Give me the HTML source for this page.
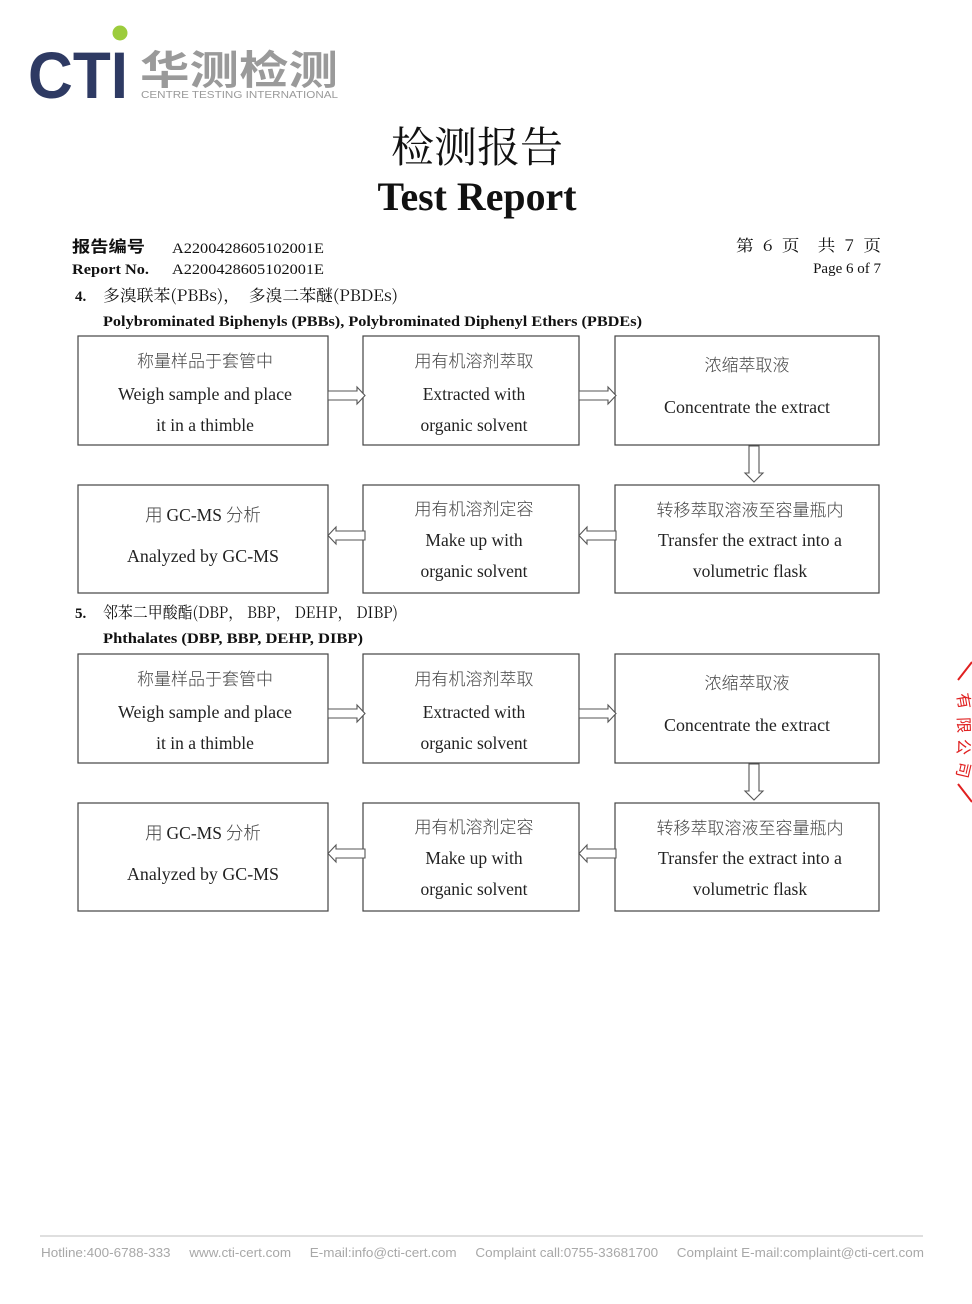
<!DOCTYPE html>
<html><head><meta charset="utf-8"><style>
html,body{margin:0;padding:0;background:#fff;}
svg{display:block;}
.s{font-family:"Liberation Serif","Noto Serif CJK SC",serif;}
.bx{fill:#fff;stroke:#444;stroke-width:1.2;}
.ar{fill:#fff;stroke:#555;stroke-width:1.1;}
.t{font-size:17.5px;fill:#222;text-anchor:middle;font-family:"Liberation Serif","Noto Sans CJK SC",serif;}
.tc{font-size:17px;fill:#444;text-anchor:middle;font-family:"Noto Sans CJK SC",sans-serif;font-weight:300;}
</style></head><body>
<svg width="972" height="1304" viewBox="0 0 972 1304" xmlns="http://www.w3.org/2000/svg">
<!-- logo -->
<circle cx="120" cy="33" r="7.5" fill="#9ccc3c"/>
<text x="28" y="98" font-family="Liberation Sans,sans-serif" font-weight="bold" font-size="66" fill="#2e3a63" textLength="100" lengthAdjust="spacingAndGlyphs">CTI</text>
<text x="140" y="84" font-family="Noto Sans CJK SC,sans-serif" font-weight="bold" font-size="40" fill="#9a9a9a" textLength="198" lengthAdjust="spacingAndGlyphs">华测检测</text>
<text x="141" y="98" font-family="Liberation Sans,sans-serif" font-size="10.5" fill="#9a9a9a" textLength="197" lengthAdjust="spacingAndGlyphs">CENTRE TESTING INTERNATIONAL</text>
<!-- title -->
<text x="477" y="162" text-anchor="middle" font-family="Noto Serif CJK SC,serif" font-size="42" fill="#111" textLength="172" lengthAdjust="spacingAndGlyphs">检测报告</text>
<text x="477" y="210" text-anchor="middle" class="s" font-weight="bold" font-size="40" fill="#111" textLength="199" lengthAdjust="spacingAndGlyphs">Test Report</text>
<!-- header -->
<text x="72" y="252" font-family="Noto Sans CJK SC,sans-serif" font-size="16" font-weight="bold" fill="#111" textLength="73" lengthAdjust="spacingAndGlyphs">报告编号</text>
<text x="172" y="253" class="s" font-size="15" fill="#111" textLength="152" lengthAdjust="spacingAndGlyphs">A2200428605102001E</text>
<text x="72" y="274" class="s" font-size="15" font-weight="bold" fill="#111" textLength="77" lengthAdjust="spacingAndGlyphs">Report No.</text>
<text x="172" y="274" class="s" font-size="15" fill="#111" textLength="152" lengthAdjust="spacingAndGlyphs">A2200428605102001E</text>
<text x="736" y="251" font-family="Noto Serif CJK SC,serif" font-size="16" fill="#111" xml:space="preserve" textLength="145" lengthAdjust="spacingAndGlyphs">第  6  页    共  7  页</text>
<text x="881" y="273" text-anchor="end" class="s" font-size="15" fill="#111">Page 6 of 7</text>
<!-- section 4 -->
<text x="75" y="301" class="s" font-size="15" font-weight="bold" fill="#111">4.</text>
<text x="103" y="301" font-family="Noto Serif CJK SC,serif" font-size="16" fill="#111" xml:space="preserve" textLength="295" lengthAdjust="spacingAndGlyphs">多溴联苯(PBBs)，  多溴二苯醚(PBDEs)</text>
<text x="103" y="326" class="s" font-size="15" font-weight="bold" fill="#111" textLength="539" lengthAdjust="spacingAndGlyphs">Polybrominated Biphenyls (PBBs), Polybrominated Diphenyl Ethers (PBDEs)</text>

<g>
<rect class="bx" x="78" y="336" width="250" height="109"/>
<rect class="bx" x="363" y="336" width="216" height="109"/>
<rect class="bx" x="615" y="336" width="264" height="109"/>
<rect class="bx" x="78" y="485" width="250" height="108"/>
<rect class="bx" x="363" y="485" width="216" height="108"/>
<rect class="bx" x="615" y="485" width="264" height="108"/>
<path class="ar" d="M328,391 H357 V387 L365,395.5 L357,404 V400 H328 Z"/>
<path class="ar" d="M579,391 H608 V387 L616,395.5 L608,404 V400 H579 Z"/>
<path class="ar" d="M749,446 V473 H745 L754,482 L763,473 H759 V446 Z"/>
<path class="ar" d="M365,531 H336 V527 L328,535.5 L336,544 V540 H365 Z"/>
<path class="ar" d="M616,531 H587 V527 L579,535.5 L587,544 V540 H616 Z"/>
<text class="tc" x="205" y="367">称量样品于套管中</text>
<text class="t" x="205" y="400" textLength="174" lengthAdjust="spacingAndGlyphs">Weigh sample and place</text>
<text class="t" x="205" y="431">it in a thimble</text>
<text class="tc" x="474" y="367">用有机溶剂萃取</text>
<text class="t" x="474" y="400">Extracted with</text>
<text class="t" x="474" y="431">organic solvent</text>
<text class="tc" x="747" y="371">浓缩萃取液</text>
<text class="t" x="747" y="413" textLength="166" lengthAdjust="spacingAndGlyphs">Concentrate the extract</text>
<text class="t" x="203" y="521"><tspan font-family="Noto Sans CJK SC,sans-serif" font-weight="300" fill="#444">用 </tspan>GC-MS<tspan font-family="Noto Sans CJK SC,sans-serif" font-weight="300" fill="#444"> 分析</tspan></text>
<text class="t" x="203" y="562" textLength="152" lengthAdjust="spacingAndGlyphs">Analyzed by GC-MS</text>
<text class="tc" x="474" y="515">用有机溶剂定容</text>
<text class="t" x="474" y="546">Make up with</text>
<text class="t" x="474" y="577">organic solvent</text>
<text class="tc" x="750" y="516">转移萃取溶液至容量瓶内</text>
<text class="t" x="750" y="546" textLength="184" lengthAdjust="spacingAndGlyphs">Transfer the extract into a</text>
<text class="t" x="750" y="577">volumetric flask</text>
</g>

<!-- section 5 -->
<text x="75" y="618" class="s" font-size="15" font-weight="bold" fill="#111">5.</text>
<text x="103" y="618" font-family="Noto Serif CJK SC,serif" font-size="16" fill="#111" xml:space="preserve" textLength="295" lengthAdjust="spacingAndGlyphs">邻苯二甲酸酯(DBP， BBP， DEHP， DIBP)</text>
<text x="103" y="643" class="s" font-size="15" font-weight="bold" fill="#111" textLength="260" lengthAdjust="spacingAndGlyphs">Phthalates (DBP, BBP, DEHP, DIBP)</text>

<g transform="translate(0,318)">
<rect class="bx" x="78" y="336" width="250" height="109"/>
<rect class="bx" x="363" y="336" width="216" height="109"/>
<rect class="bx" x="615" y="336" width="264" height="109"/>
<rect class="bx" x="78" y="485" width="250" height="108"/>
<rect class="bx" x="363" y="485" width="216" height="108"/>
<rect class="bx" x="615" y="485" width="264" height="108"/>
<path class="ar" d="M328,391 H357 V387 L365,395.5 L357,404 V400 H328 Z"/>
<path class="ar" d="M579,391 H608 V387 L616,395.5 L608,404 V400 H579 Z"/>
<path class="ar" d="M749,446 V473 H745 L754,482 L763,473 H759 V446 Z"/>
<path class="ar" d="M365,531 H336 V527 L328,535.5 L336,544 V540 H365 Z"/>
<path class="ar" d="M616,531 H587 V527 L579,535.5 L587,544 V540 H616 Z"/>
<text class="tc" x="205" y="367">称量样品于套管中</text>
<text class="t" x="205" y="400" textLength="174" lengthAdjust="spacingAndGlyphs">Weigh sample and place</text>
<text class="t" x="205" y="431">it in a thimble</text>
<text class="tc" x="474" y="367">用有机溶剂萃取</text>
<text class="t" x="474" y="400">Extracted with</text>
<text class="t" x="474" y="431">organic solvent</text>
<text class="tc" x="747" y="371">浓缩萃取液</text>
<text class="t" x="747" y="413" textLength="166" lengthAdjust="spacingAndGlyphs">Concentrate the extract</text>
<text class="t" x="203" y="521"><tspan font-family="Noto Sans CJK SC,sans-serif" font-weight="300" fill="#444">用 </tspan>GC-MS<tspan font-family="Noto Sans CJK SC,sans-serif" font-weight="300" fill="#444"> 分析</tspan></text>
<text class="t" x="203" y="562" textLength="152" lengthAdjust="spacingAndGlyphs">Analyzed by GC-MS</text>
<text class="tc" x="474" y="515">用有机溶剂定容</text>
<text class="t" x="474" y="546">Make up with</text>
<text class="t" x="474" y="577">organic solvent</text>
<text class="tc" x="750" y="516">转移萃取溶液至容量瓶内</text>
<text class="t" x="750" y="546" textLength="184" lengthAdjust="spacingAndGlyphs">Transfer the extract into a</text>
<text class="t" x="750" y="577">volumetric flask</text>
</g>

<!-- stamp -->
<path d="M972,662 L958,680 M958,784 L972,802" stroke="#e02020" stroke-width="2" fill="none"/>
<g font-family="Noto Sans CJK SC,sans-serif" font-size="16" fill="#e02020">
<text x="957" y="706" transform="rotate(80 964 700)">有</text>
<text x="957" y="730" transform="rotate(88 964 724)">限</text>
<text x="957" y="752" transform="rotate(95 964 746)">公</text>
<text x="957" y="775" transform="rotate(103 964 769)">司</text>
</g>

<!-- footer -->
<line x1="40" y1="1236" x2="923" y2="1236" stroke="#ccc" stroke-width="1.2"/>
<text x="41" y="1257" font-family="Liberation Sans,sans-serif" font-size="13" fill="#a8a8a8" textLength="883" lengthAdjust="spacingAndGlyphs" xml:space="preserve">Hotline:400-6788-333     www.cti-cert.com     E-mail:info@cti-cert.com     Complaint call:0755-33681700     Complaint E-mail:complaint@cti-cert.com</text>
</svg>
</body></html>
